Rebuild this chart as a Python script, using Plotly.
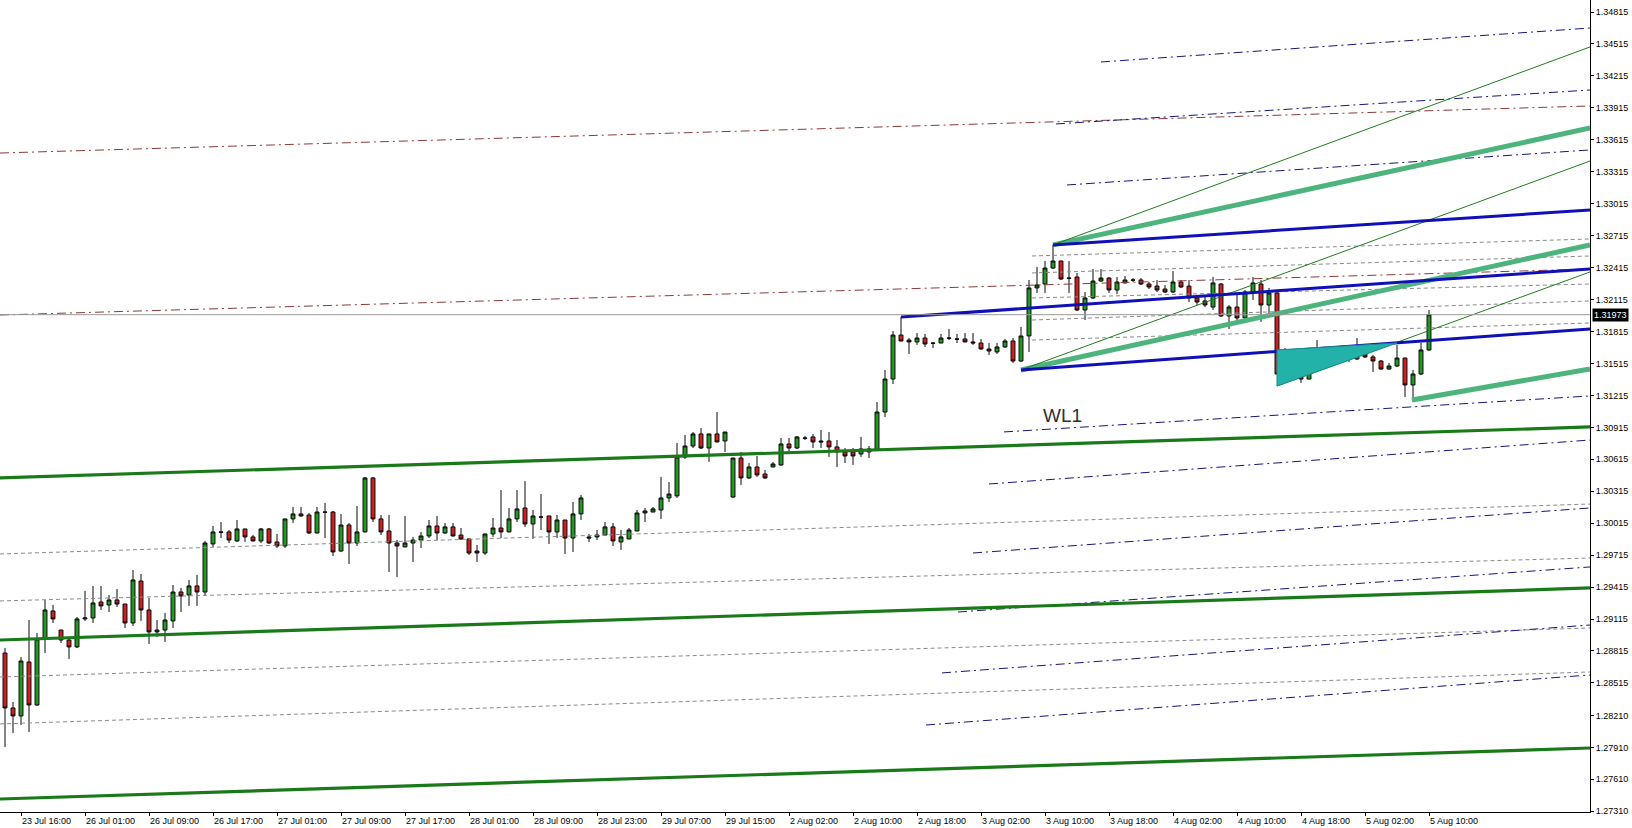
import plotly.graph_objects as go

# ---------------- data ----------------
time_labels = ["23 Jul 16:00", "26 Jul 01:00", "26 Jul 09:00", "26 Jul 17:00", "27 Jul 01:00",
               "27 Jul 09:00", "27 Jul 17:00", "28 Jul 01:00", "28 Jul 09:00", "28 Jul 23:00",
               "29 Jul 07:00", "29 Jul 15:00", "2 Aug 02:00", "2 Aug 10:00", "2 Aug 18:00",
               "3 Aug 02:00", "3 Aug 10:00", "3 Aug 18:00", "4 Aug 02:00", "4 Aug 10:00",
               "4 Aug 18:00", "5 Aug 02:00", "5 Aug 10:00"]
label_bar_first = 2
label_bar_step = 8

price_labels = ["1.34815", "1.34515", "1.34215", "1.33915", "1.33615", "1.33315", "1.33015",
                "1.32715", "1.32415", "1.32115", "1.31815", "1.31515", "1.31215", "1.30915",
                "1.30615", "1.30315", "1.30015", "1.29715", "1.29415", "1.29115", "1.28815",
                "1.28515", "1.28210", "1.27910", "1.27610", "1.27310"]

current_price = 1.31973

opens = [1.28796, 1.28280, 1.28205, 1.28712, 1.28308, 1.28937, 1.29191, 1.29012, 1.28918, 1.28853,
         1.29116, 1.29125, 1.29275, 1.29247, 1.29294, 1.29256, 1.29078, 1.29472, 1.29200, 1.28994,
         1.29012, 1.29097, 1.29369, 1.29341, 1.29426, 1.29369, 1.29820, 1.29933, 1.29933, 1.29848,
         1.29961, 1.29886, 1.29848, 1.29961, 1.29839, 1.29801, 1.30055, 1.30102, 1.30092, 1.29923,
         1.30120, 1.30120, 1.29754, 1.29998, 1.29829, 1.29933, 1.30440, 1.30055, 1.29942, 1.29829,
         1.29792, 1.29829, 1.29857, 1.29895, 1.29989, 1.29923, 1.29980, 1.29904, 1.29867, 1.29754,
         1.29735, 1.29914, 1.29970, 1.29933, 1.30055, 1.30158, 1.30008, 1.30074, 1.30083, 1.29933,
         1.30045, 1.29876, 1.30102, 1.29886, 1.29886, 1.29904, 1.29980, 1.29839, 1.29867, 1.29942,
         1.30111, 1.30120, 1.30139, 1.30252, 1.30271, 1.30637, 1.30740, 1.30853, 1.30721, 1.30853,
         1.30787, 1.30261, 1.30627, 1.30440, 1.30543, 1.30477, 1.30543, 1.30562, 1.30759, 1.30721,
         1.30815, 1.30825, 1.30787, 1.30787, 1.30731, 1.30684, 1.30684, 1.30665, 1.30684, 1.30703,
         1.31059, 1.31369, 1.31782, 1.31735, 1.31717, 1.31754, 1.31707, 1.31707, 1.31754, 1.31745,
         1.31745, 1.31717, 1.31707, 1.31651, 1.31623, 1.31670, 1.31726, 1.31538, 1.31773, 1.32224,
         1.32261, 1.32411, 1.32477, 1.32317, 1.32327, 1.32017, 1.32130, 1.32289, 1.32317, 1.32205,
         1.32271, 1.32299, 1.32299, 1.32261, 1.32242, 1.32214, 1.32186, 1.32280, 1.32242, 1.32130,
         1.32102, 1.32045, 1.32261, 1.31961, 1.32045, 1.31942, 1.32186, 1.32261, 1.32064, 1.32177,
         1.31416, 1.31566, 1.31557, 1.31369, 1.31623, 1.31623, 1.31566, 1.31548, 1.31557, 1.31557,
         1.31613, 1.31576, 1.31538, 1.31463, 1.31491, 1.31566, 1.31313, 1.31416, 1.31642]
highs = [1.28843, 1.28336, 1.28759, 1.29106, 1.28984, 1.29294, 1.29247, 1.29012, 1.28947, 1.29134,
         1.29379, 1.29426, 1.29426, 1.29341, 1.29397, 1.29256, 1.29576, 1.29538, 1.29313, 1.29106,
         1.29172, 1.29435, 1.29407, 1.29482, 1.29529, 1.29848, 1.29989, 1.30026, 1.29951, 1.30045,
         1.29961, 1.29904, 1.29970, 1.29970, 1.29914, 1.30055, 1.30167, 1.30167, 1.30111, 1.30167,
         1.30205, 1.30130, 1.30102, 1.30017, 1.30177, 1.30449, 1.30449, 1.30092, 1.30092, 1.29857,
         1.30083, 1.29886, 1.29933, 1.30045, 1.30083, 1.30017, 1.30017, 1.29970, 1.29870, 1.29810,
         1.29914, 1.30064, 1.30327, 1.30158, 1.30327, 1.30411, 1.30139, 1.30289, 1.30083, 1.30092,
         1.30045, 1.30214, 1.30280, 1.29914, 1.29951, 1.30026, 1.30017, 1.29951, 1.29970, 1.30139,
         1.30158, 1.30167, 1.30449, 1.30402, 1.30768, 1.30843, 1.30871, 1.30909, 1.30853, 1.31059,
         1.30874, 1.30628, 1.30684, 1.30580, 1.30646, 1.30515, 1.30590, 1.30815, 1.30815, 1.30834,
         1.30834, 1.30853, 1.30890, 1.30871, 1.30796, 1.30721, 1.30721, 1.30825, 1.30740, 1.31153,
         1.31454, 1.31820, 1.31951, 1.31754, 1.31801, 1.31792, 1.31717, 1.31792, 1.31839, 1.31792,
         1.31801, 1.31801, 1.31745, 1.31707, 1.31707, 1.31745, 1.31754, 1.31858, 1.32299, 1.32421,
         1.32477, 1.32628, 1.32480, 1.32477, 1.32364, 1.32186, 1.32402, 1.32402, 1.32327, 1.32327,
         1.32336, 1.32317, 1.32317, 1.32280, 1.32299, 1.32252, 1.32383, 1.32299, 1.32299, 1.32158,
         1.32158, 1.32327, 1.32271, 1.32064, 1.32177, 1.32205, 1.32327, 1.32299, 1.32224, 1.32205,
         1.31660, 1.31613, 1.31585, 1.31625, 1.31735, 1.31660, 1.31595, 1.31623, 1.31576, 1.31754,
         1.31623, 1.31595, 1.31548, 1.31520, 1.31689, 1.31568, 1.31454, 1.31707, 1.32017]
lows = [1.27914, 1.28045, 1.28120, 1.28055, 1.28299, 1.28796, 1.29078, 1.28890, 1.28740, 1.28843,
        1.29097, 1.29078, 1.29200, 1.29181, 1.29228, 1.29031, 1.29050, 1.29097, 1.28881, 1.28947,
        1.28900, 1.29031, 1.29181, 1.29238, 1.29238, 1.29332, 1.29792, 1.29876, 1.29829, 1.29839,
        1.29839, 1.29845, 1.29829, 1.29820, 1.29782, 1.29782, 1.30017, 1.30074, 1.29914, 1.29920,
        1.29876, 1.29707, 1.29745, 1.29632, 1.29801, 1.29930, 1.30026, 1.29904, 1.29557, 1.29510,
        1.29790, 1.29651, 1.29782, 1.29876, 1.29857, 1.29914, 1.29890, 1.29857, 1.29717, 1.29651,
        1.29717, 1.29886, 1.29876, 1.29930, 1.30026, 1.29980, 1.29867, 1.29951, 1.29820, 1.29876,
        1.29726, 1.29745, 1.30045, 1.29839, 1.29857, 1.29900, 1.29801, 1.29764, 1.29865, 1.29940,
        1.30026, 1.30118, 1.30055, 1.30214, 1.30252, 1.30618, 1.30721, 1.30712, 1.30590, 1.30775,
        1.30684, 1.30250, 1.30374, 1.30430, 1.30449, 1.30430, 1.30540, 1.30552, 1.30684, 1.30712,
        1.30796, 1.30721, 1.30721, 1.30637, 1.30543, 1.30580, 1.30562, 1.30637, 1.30627, 1.30700,
        1.31012, 1.31322, 1.31723, 1.31604, 1.31689, 1.31670, 1.31661, 1.31705, 1.31735, 1.31707,
        1.31715, 1.31689, 1.31642, 1.31595, 1.31604, 1.31661, 1.31520, 1.31529, 1.31623, 1.32177,
        1.32177, 1.32402, 1.32299, 1.32177, 1.32008, 1.31923, 1.32120, 1.32280, 1.32177, 1.32167,
        1.32268, 1.32280, 1.32252, 1.32214, 1.32186, 1.32177, 1.32177, 1.32224, 1.32092, 1.32064,
        1.32045, 1.32017, 1.31951, 1.31839, 1.31895, 1.31940, 1.32111, 1.31905, 1.31970, 1.31413,
        1.31360, 1.31529, 1.31332, 1.31367, 1.31595, 1.31501, 1.31510, 1.31520, 1.31529, 1.31548,
        1.31566, 1.31435, 1.31454, 1.31454, 1.31482, 1.31200, 1.31172, 1.31407, 1.31632]
closes = [1.28280, 1.28205, 1.28721, 1.28308, 1.28928, 1.29200, 1.29116, 1.28918, 1.28853, 1.29116,
          1.29125, 1.29266, 1.29238, 1.29294, 1.29256, 1.29078, 1.29482, 1.29200, 1.28994, 1.29012,
          1.29106, 1.29369, 1.29332, 1.29426, 1.29369, 1.29829, 1.29933, 1.29930, 1.29857, 1.29961,
          1.29886, 1.29848, 1.29961, 1.29829, 1.29801, 1.30055, 1.30102, 1.30083, 1.29923, 1.30120,
          1.30118, 1.29745, 1.29998, 1.29829, 1.29933, 1.30440, 1.30055, 1.29933, 1.29829, 1.29801,
          1.29829, 1.29857, 1.29895, 1.29989, 1.29923, 1.29980, 1.29895, 1.29867, 1.29735, 1.29735,
          1.29914, 1.29970, 1.29933, 1.30055, 1.30149, 1.30008, 1.30083, 1.30072, 1.29933, 1.30045,
          1.29876, 1.30102, 1.30252, 1.29876, 1.29904, 1.29980, 1.29848, 1.29886, 1.29951, 1.30111,
          1.30130, 1.30149, 1.30252, 1.30289, 1.30637, 1.30740, 1.30853, 1.30721, 1.30853, 1.30778,
          1.30871, 1.30627, 1.30440, 1.30543, 1.30468, 1.30440, 1.30571, 1.30759, 1.30721, 1.30825,
          1.30813, 1.30778, 1.30778, 1.30731, 1.30684, 1.30646, 1.30646, 1.30712, 1.30712, 1.31059,
          1.31369, 1.31782, 1.31726, 1.31717, 1.31754, 1.31698, 1.31705, 1.31754, 1.31752, 1.31743,
          1.31717, 1.31707, 1.31651, 1.31632, 1.31670, 1.31726, 1.31538, 1.31773, 1.32224, 1.32252,
          1.32411, 1.32477, 1.32308, 1.32315, 1.32017, 1.32130, 1.32289, 1.32317, 1.32205, 1.32280,
          1.32299, 1.32297, 1.32261, 1.32233, 1.32205, 1.32186, 1.32280, 1.32233, 1.32130, 1.32092,
          1.32064, 1.32271, 1.31961, 1.32045, 1.31942, 1.32186, 1.32271, 1.32064, 1.32177, 1.31416,
          1.31566, 1.31564, 1.31369, 1.31623, 1.31621, 1.31576, 1.31520, 1.31546, 1.31555, 1.31613,
          1.31576, 1.31538, 1.31463, 1.31491, 1.31566, 1.31313, 1.31416, 1.31642, 1.31973]

# drawn objects: (bar0, price0, bar1, price1)
channel_lines = [(-0.625, 1.30440, 198.125, 1.30919),
                 (-0.625, 1.28918, 198.125, 1.29407),
                 (-0.625, 1.27425, 198.125, 1.27904)]
brown_lines = [(-0.625, 1.33491, 198.125, 1.33933),
               (-0.625, 1.31970, 198.125, 1.32402)]
gray_levels = [(-0.625, 1.29726, 198.125, 1.30195),
               (-0.625, 1.29285, 198.125, 1.29688),
               (-0.625, 1.28571, 198.125, 1.29031),
               (-0.625, 1.28130, 198.125, 1.28618),
               (128.375, 1.31735, 198.125, 1.31895),
               (128.375, 1.31923, 198.125, 1.32102),
               (128.375, 1.32130, 198.125, 1.32261),
               (128.375, 1.32365, 198.125, 1.32524),
               (128.375, 1.32524, 198.125, 1.32684)]
navy_lines = [(137.0, 1.34346, 198.125, 1.34665),
              (131.375, 1.33764, 198.125, 1.34083),
              (132.75, 1.33191, 198.125, 1.33520),
              (124.875, 1.30872, 198.125, 1.31210),
              (123.0, 1.30383, 198.125, 1.30796),
              (121.0, 1.29735, 198.125, 1.30158),
              (119.125, 1.29181, 198.125, 1.29604),
              (117.125, 1.28609, 198.125, 1.29059),
              (115.125, 1.28120, 198.125, 1.28590)]
blue_lines = [(131.0, 1.32628, 198.125, 1.32956),
              (112.0, 1.31951, 198.125, 1.32402),
              (127.0, 1.31454, 198.125, 1.31839)]
seagreen_lines = [(131.0, 1.32628, 198.125, 1.33726),
                  (127.0, 1.31454, 198.125, 1.32628),
                  (175.875, 1.31172, 198.125, 1.31463)]
thin_green_lines = [(131.0, 1.32628, 198.125, 1.34487),
                    (127.0, 1.31454, 198.125, 1.33416),
                    (159.0, 1.31303, 198.125, 1.32374)]
triangle_bars = [159.0, 159.0, 174.0]
triangle_prices = [1.31642, 1.31303, 1.31707]
text_label = "WL1"
text_bar, text_price = 129.5, 1.30909

x_range = [-0.625, 198.125]
y_range = [1.27303, 1.34928]

# ---------------- figure ----------------
fig = go.Figure()


def add_segments(segs, color, width, dash="solid"):
    xs, ys = [], []
    for x0, y0, x1, y1 in segs:
        xs += [x0, x1, None]
        ys += [y0, y1, None]
    fig.add_trace(go.Scatter(x=xs, y=ys, mode="lines", hoverinfo="skip", showlegend=False,
                             line=dict(color=color, width=width, dash=dash)))


add_segments(gray_levels, "#8a8a8a", 1, "4px,3px")
add_segments(brown_lines, "#8b3a3a", 1, "9px,4px,2px,4px")
add_segments(navy_lines, "#16167a", 1, "9px,4px,2px,4px")
add_segments(channel_lines, "#1a7a1a", 3.2)
add_segments(seagreen_lines, "#4cb47c", 5)
add_segments(thin_green_lines, "#1f7f1f", 1)
add_segments(blue_lines, "#1010b8", 3)

fig.add_trace(go.Scatter(x=triangle_bars + [triangle_bars[0]],
                         y=triangle_prices + [triangle_prices[0]],
                         mode="lines", fill="toself", fillcolor="#22b2aa",
                         line=dict(color="#178f88", width=1),
                         hoverinfo="skip", showlegend=False))

bars = list(range(len(opens)))
fig.add_trace(go.Candlestick(
    x=bars, open=opens, high=highs, low=lows, close=closes,
    increasing=dict(fillcolor="#229a22", line=dict(color="#0a0a0a", width=1)),
    decreasing=dict(fillcolor="#d21e1e", line=dict(color="#0a0a0a", width=1)),
    whiskerwidth=0, showlegend=False, hoverinfo="skip"))

fig.add_shape(type="line", xref="paper", x0=0, x1=1, yref="y",
              y0=current_price, y1=current_price,
              line=dict(color="#9a9a9a", width=1))

fig.add_annotation(x=text_bar, y=text_price, text=text_label, showarrow=False,
                   xanchor="left", yanchor="bottom",
                   font=dict(family="Liberation Sans", size=19, color="#2f2f2f"))

fig.add_annotation(xref="paper", x=1, y=current_price, text=f"{current_price:.5f}",
                   showarrow=False, xanchor="left", yanchor="middle", xshift=2,
                   bgcolor="#000000", borderpad=1,
                   font=dict(family="Liberation Sans", size=9, color="#ffffff"))

label_bars = [label_bar_first + label_bar_step * i for i in range(len(time_labels))]

fig.update_layout(
    width=1632, height=828,
    margin=dict(l=0, r=42, t=0, b=16),
    paper_bgcolor="#ffffff", plot_bgcolor="#ffffff",
    showlegend=False,
    font=dict(family="Liberation Sans", size=9, color="#000000"),
    xaxis=dict(range=x_range, showgrid=False, zeroline=False, rangeslider=dict(visible=False),
               tickmode="array", tickvals=label_bars, ticktext=time_labels,
               ticks="outside", ticklen=3, tickcolor="#000000",
               ticklabelposition="outside right",
               showline=True, linecolor="#000000", linewidth=1,
               tickfont=dict(family="Liberation Sans", size=9, color="#000000")),
    yaxis=dict(range=y_range, side="right", showgrid=False, zeroline=False,
               tickmode="array", tickvals=[float(v) for v in price_labels], ticktext=price_labels,
               ticks="outside", ticklen=3, tickcolor="#000000",
               showline=True, linecolor="#000000", linewidth=1,
               tickfont=dict(family="Liberation Sans", size=9, color="#000000")),
)

fig.write_html("out.html", config={"displayModeBar": False},
               post_script="document.body.style.margin='0';document.body.style.overflow='hidden';")
